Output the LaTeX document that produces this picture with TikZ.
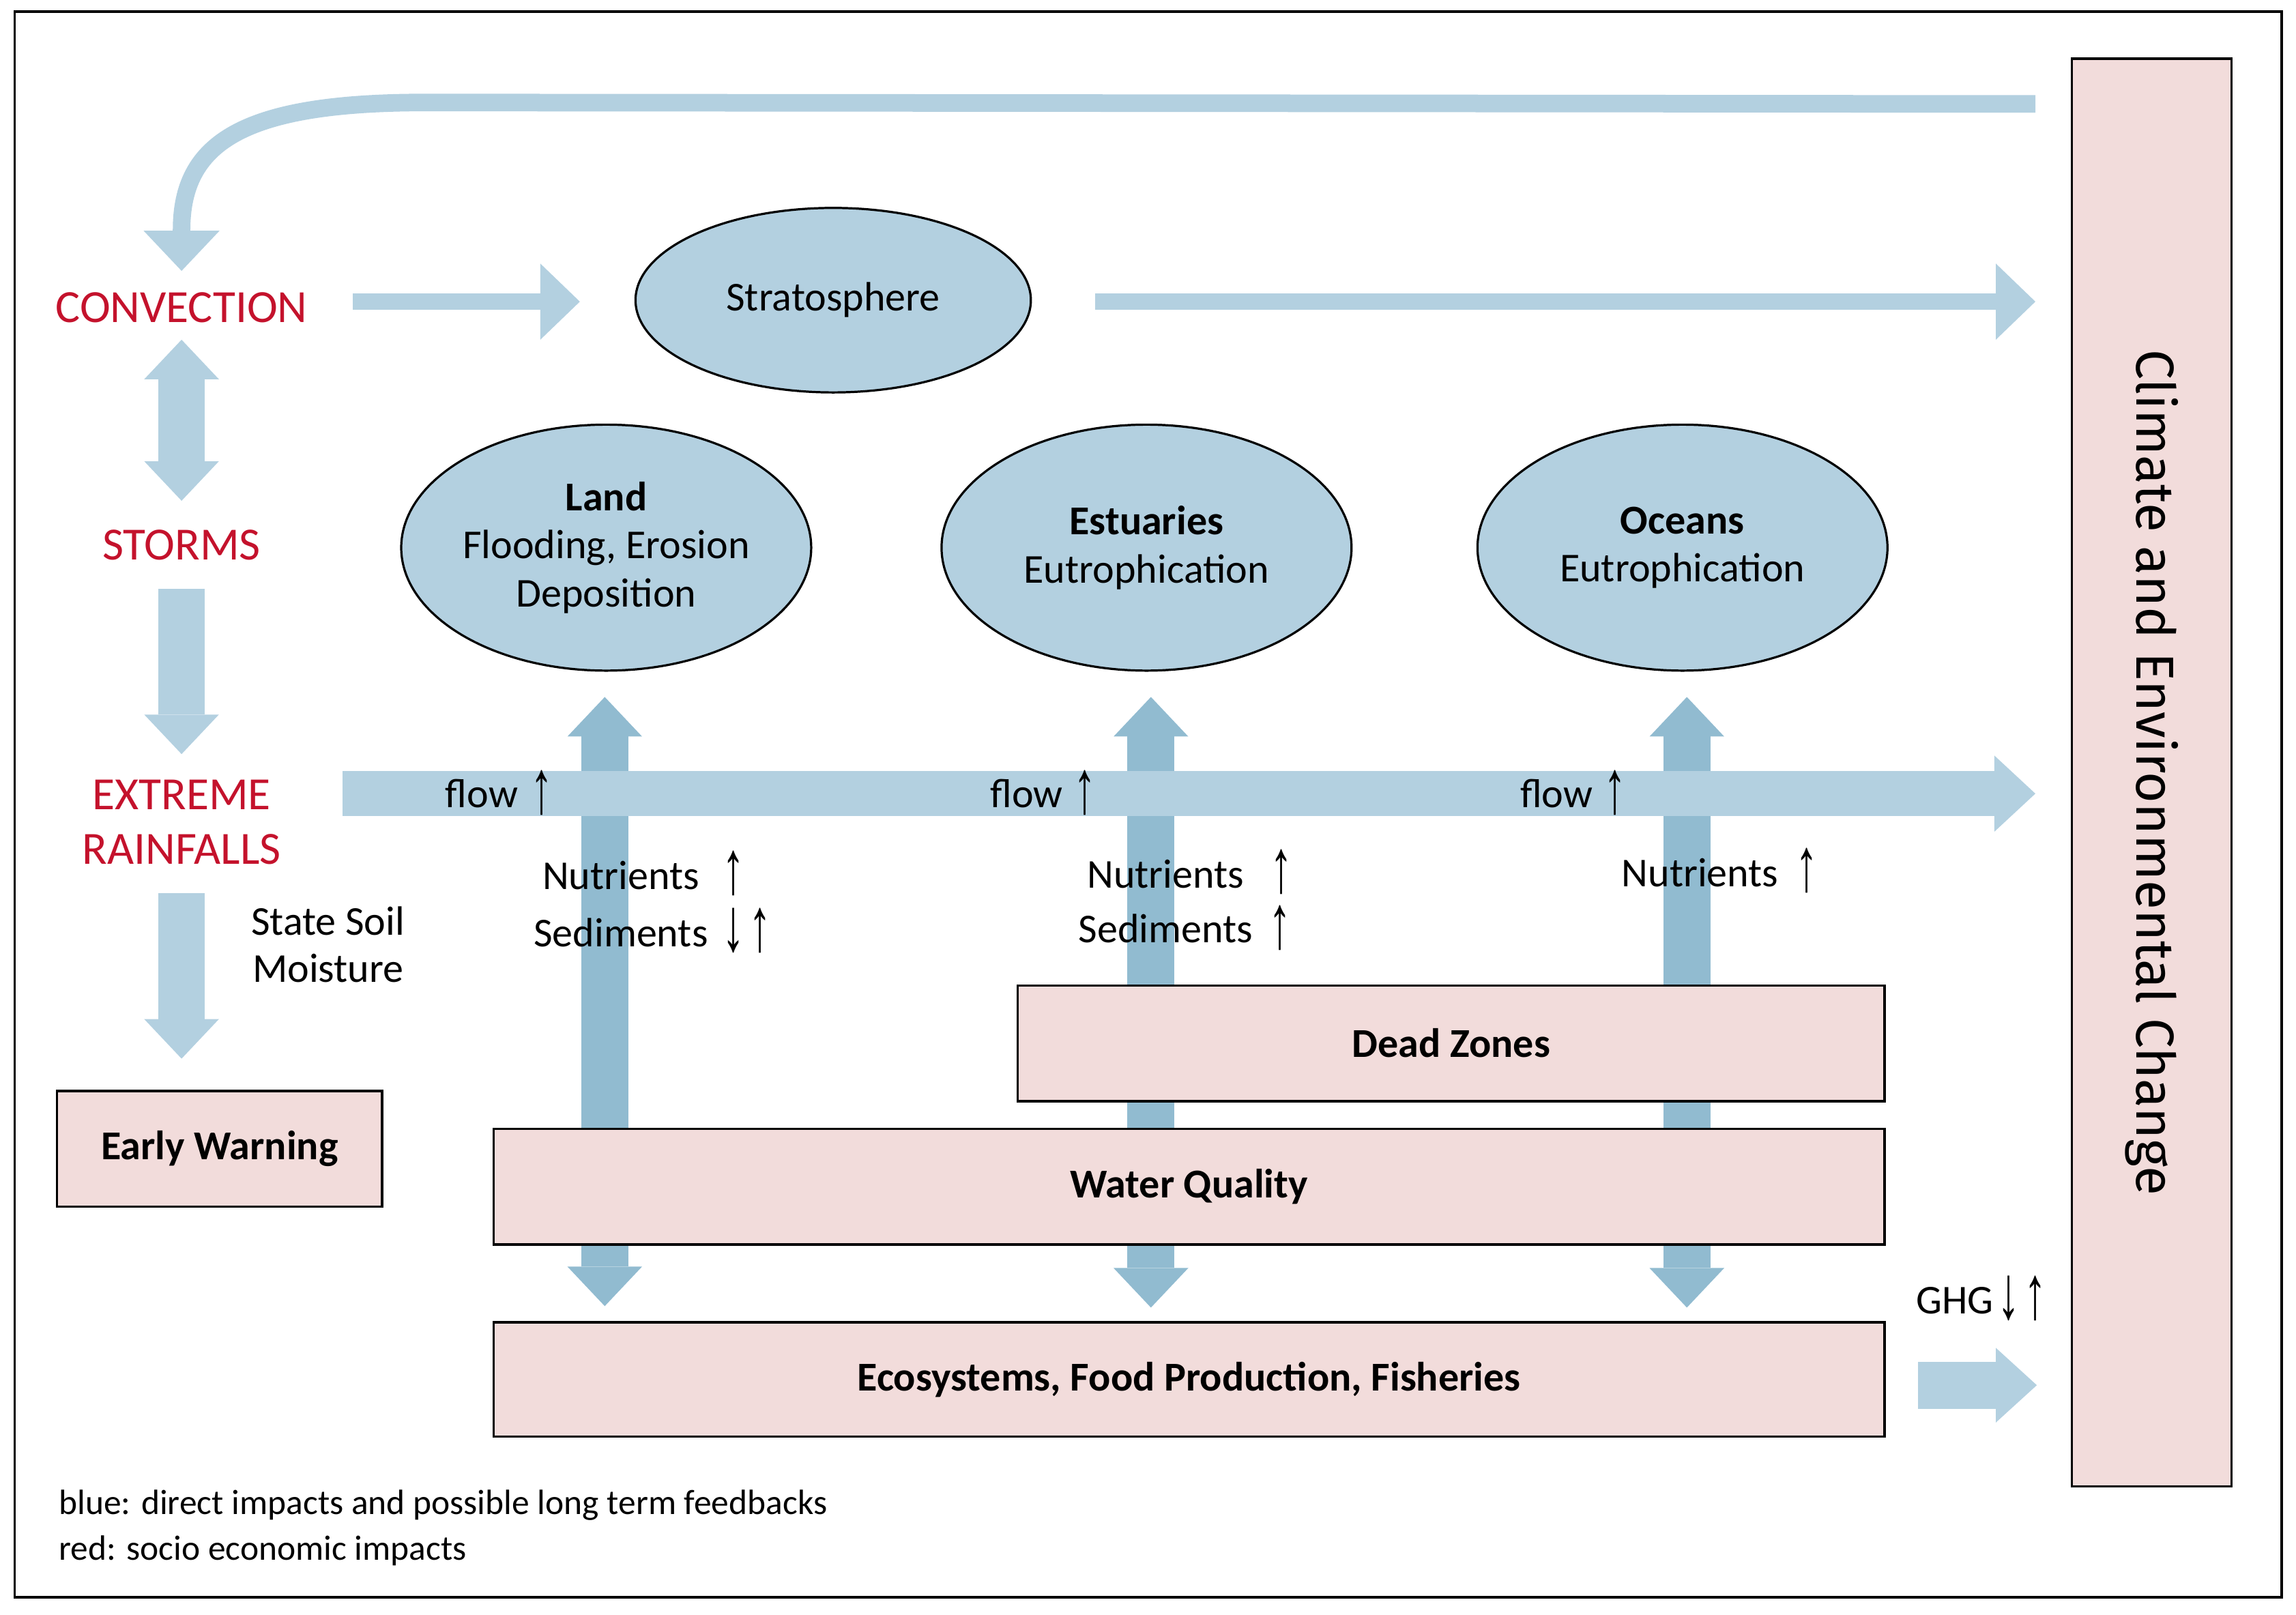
\documentclass[tikz,border=0pt]{standalone}
\usepackage{fontspec}
\setmainfont{Carlito}
\newfontfamily\climfont{Fira Sans}
\newfontfamily\arrfont{Liberation Sans}
\usetikzlibrary{shapes.geometric,arrows.meta}
\definecolor{lightblue}{RGB}{179,208,224}
\definecolor{darkblue}{RGB}{145,187,208}
\definecolor{boxpink}{RGB}{242,220,219}
\definecolor{labelred}{RGB}{196,18,44}
\newsavebox\arrbox
\newlength\arrmid
\newcommand{\arrglyph}[1]{\sbox\arrbox{\scalebox{1.1}[1.85]{\arrfont #1}}%
  \setlength\arrmid{\dimexpr(\ht\arrbox-\dp\arrbox)/2\relax}%
  \raisebox{0pt}[\dimexpr\arrmid+13pt\relax][\dimexpr13pt-\arrmid\relax]{\usebox\arrbox}}
\newcommand{\arrup}{\arrglyph{↑}}
\newcommand{\arrdown}{\arrglyph{↓}}
\begin{document}
\begin{tikzpicture}[x=1pt,y=-1pt,
  font=\fontsize{28}{33}\selectfont,
  bluell/.style={ellipse, draw, line width=1.5pt, fill=lightblue, inner sep=0pt, align=center},
  pinkbox/.style={rectangle, draw, line width=1.6pt, fill=boxpink, inner sep=0pt, font=\fontsize{28}{33}\selectfont\bfseries},
  redlabel/.style={text=labelred, font=\fontsize{31.5}{37}\selectfont, align=center},
  lbl/.style={inner sep=0pt},
  thinarr/.style={draw=lightblue, line width=11pt, -{Triangle[width=52pt,length=27pt,line width=0pt]}},
  fatarr/.style={draw=lightblue, line width=32pt, -{Triangle[width=51pt,length=27pt,line width=0pt]}},
  fatboth/.style={draw=lightblue, line width=32pt, {Triangle[width=51pt,length=27pt,line width=0pt]}-{Triangle[width=51pt,length=27pt,line width=0pt]}},
  darkboth/.style={draw=darkblue, line width=32pt, {Triangle[width=51pt,length=27pt,line width=0pt]}-{Triangle[width=51pt,length=27pt,line width=0pt]}},
]
\useasboundingbox (0,0) rectangle (1568,1102.5);
\node[draw, line width=1.8pt, minimum width=1548pt, minimum height=1083pt, inner sep=0pt] (frame) at (784,549.5) {};

% text labels on the left
\node[redlabel] (conv) at (124,210) {CONVECTION};
\node[redlabel] (storms) at (124,372) {STORMS};
\node[redlabel] (rain) at (124,561.5) {EXTREME\\RAINFALLS};
\node[align=center, font=\fontsize{28}{32}\selectfont] (soil) at (224,645) {State Soil\\Moisture};

% arrow end coordinates
\coordinate (fbstart) at (1390,71);
\coordinate (fbend) at (124,185);
\coordinate (c2sA) at (241,206);
\coordinate (c2sB) at (396,206);
\coordinate (s2cA) at (748,206);
\coordinate (s2cB) at (1390,206);
\coordinate (csA) at (124,232);
\coordinate (csB) at (124,342);
\coordinate (srA) at (124,402);
\coordinate (srB) at (124,515);
\coordinate (reA) at (124,610);
\coordinate (reB) at (124,723);
\coordinate (flowA) at (234,542);
\coordinate (flowB) at (1390,542);
\coordinate (landA) at (413,892);
\coordinate (landB) at (413,476);
\coordinate (estA) at (786,893);
\coordinate (estB) at (786,476);
\coordinate (ocA) at (1152,893);
\coordinate (ocB) at (1152,476);
\coordinate (ghgA) at (1310,946);
\coordinate (ghgB) at (1391,946);

% dark vertical arrows (behind)
\draw[darkboth] (landA) -- (landB);
\draw[darkboth] (estA) -- (estB);
\draw[darkboth] (ocA) -- (ocB);

% light arrows
\draw[draw=lightblue, line width=12pt, -{Triangle[width=52pt,length=27.5pt,line width=0pt]}]
  (fbstart) -- (290,70) .. controls (165,70) and (124,98) .. (124,157) -- (fbend);
\draw[thinarr] (c2sA) -- (c2sB);
\draw[thinarr] (s2cA) -- (s2cB);
\draw[fatboth] (csA) -- (csB);
\draw[fatarr] (srA) -- (srB);
\draw[fatarr] (reA) -- (reB);
\draw[draw=lightblue, line width=31pt, -{Triangle[width=52pt,length=28pt,line width=0pt]}] (flowA) -- (flowB);
\draw[draw=lightblue, line width=32pt, -{Triangle[width=51pt,length=28pt,line width=0pt]}] (ghgA) -- (ghgB);

% ellipses
\node[bluell, minimum width=270pt, minimum height=126pt] (strat) at (569,205) {Stratosphere};
\node[bluell, minimum width=280pt, minimum height=168pt] (land) at (414,374) {\textbf{Land}\\Flooding, Erosion\\Deposition};
\node[bluell, minimum width=280pt, minimum height=168pt] (estu) at (783,374) {\textbf{Estuaries}\\Eutrophication};
\node[bluell, minimum width=280pt, minimum height=168pt] (ocean) at (1149,374) {\textbf{Oceans}\\Eutrophication};

% boxes
\node[pinkbox, minimum width=222pt, minimum height=79pt] (early) at (150,784.5) {Early Warning};
\node[pinkbox, minimum width=592pt, minimum height=79pt] (dead) at (991,712.5) {Dead Zones};
\node[pinkbox, minimum width=950pt, minimum height=79pt] (water) at (812,810.5) {Water Quality};
\node[pinkbox, minimum width=950pt, minimum height=78pt] (eco) at (812,942) {Ecosystems, Food Production, Fisheries};
\node[pinkbox, rotate=-90, minimum width=975pt, minimum height=109pt, font=\climfont\fontsize{36.5}{42}\selectfont] (climate) at (1469.5,527.5) {Climate and Environmental Change};

% flow labels
\node[lbl] (flow1) at (329,542) {flow};
\node[lbl] (flow1a) at (370,542) {\arrup};
\node[lbl] (flow2) at (701,542) {flow};
\node[lbl] (flow2a) at (741,542) {\arrup};
\node[lbl] (flow3) at (1063,542) {flow};
\node[lbl] (flow3a) at (1103,542) {\arrup};

% nutrients / sediments
\node[lbl] (lnut) at (424,598) {Nutrients};
\node[lbl] (lnuta) at (501,597) {\arrup};
\node[lbl] (lsed) at (424,637) {Sediments};
\node[lbl] (lseda) at (501,636) {\arrdown};
\node[lbl] (lsedb) at (519,636) {\arrup};
\node[lbl] (enut) at (796,597) {Nutrients};
\node[lbl] (enuta) at (875,596) {\arrup};
\node[lbl] (esed) at (796,634) {Sediments};
\node[lbl] (eseda) at (874,634) {\arrup};
\node[lbl] (onut) at (1161,596) {Nutrients};
\node[lbl] (onuta) at (1234,595) {\arrup};

% GHG
\node[lbl] (ghg) at (1335,888) {GHG};
\node[lbl] (ghga) at (1372,887) {\arrdown};
\node[lbl] (ghgb) at (1390,887) {\arrup};

% legend
\node[lbl, anchor=west, font=\fontsize{24}{28}\selectfont] (leg1) at (40,1028) {blue: direct impacts and possible long term feedbacks};
\node[lbl, anchor=west, font=\fontsize{24}{28}\selectfont] (leg2) at (40,1059) {red: socio economic impacts};
\end{tikzpicture}
\end{document}
